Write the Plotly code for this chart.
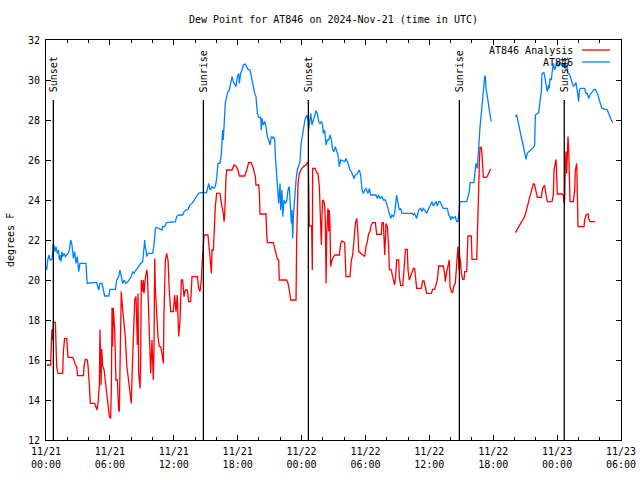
import pandas as pd
import plotly.graph_objects as go

BASE = pd.Timestamp("2024-11-21 00:00")

# hours after 2024-11-21 00:00 UTC, dew point in deg F (None = data gap)
red_hours = [0.06,0.44,0.47,0.56,0.63,0.69,0.88,0.94,1.00,1.13,1.57,1.63,1.75,1.94,2.00,2.07,2.50,2.63,2.75,2.88,2.97,3.51,3.57,3.69,3.88,3.94,4.07,4.16,4.57,4.70,4.79,4.88,4.95,5.01,5.07,5.17,5.23,5.32,5.45,5.57,5.70,5.82,5.95,6.07,6.14,6.20,6.26,6.32,6.45,6.57,6.70,6.82,6.89,6.95,7.07,7.20,7.33,7.45,7.58,7.76,7.89,8.01,8.08,8.20,8.33,8.45,8.51,8.58,8.64,8.70,8.83,8.89,8.95,9.08,9.14,9.20,9.33,9.45,9.52,9.64,9.77,9.83,9.95,10.02,10.08,10.14,10.21,10.27,10.39,10.52,10.64,10.77,10.89,11.02,11.08,11.21,11.33,11.46,11.58,11.71,11.96,12.08,12.21,12.33,12.46,12.58,12.71,12.83,12.96,13.09,13.27,13.40,13.59,13.71,14.21,14.34,14.46,14.59,14.68,14.78,14.84,15.21,15.34,15.40,15.53,15.59,15.72,15.78,15.90,16.03,16.34,16.47,16.59,16.65,16.72,16.78,16.91,16.97,17.47,17.66,17.84,18.03,18.16,18.66,18.85,19.03,19.28,19.47,19.66,19.72,19.97,20.04,20.10,20.66,20.72,20.79,21.35,21.54,21.73,21.85,21.91,22.60,22.73,22.85,22.98,23.48,23.54,23.67,23.79,23.98,24.17,24.42,24.54,24.64,24.70,24.73,24.95,25.01,25.04,25.29,25.42,25.54,25.67,25.73,25.86,25.92,25.98,26.11,26.17,26.23,26.30,26.36,26.48,26.55,26.61,26.67,26.73,26.86,26.98,27.11,27.55,27.67,27.80,28.05,28.17,28.55,28.68,28.80,28.93,29.05,29.18,29.30,29.36,29.61,29.74,29.93,30.05,30.18,30.30,30.43,30.55,30.68,30.93,30.99,31.05,31.49,31.55,31.68,31.74,31.81,31.87,31.93,32.06,32.12,32.18,32.24,32.43,32.49,32.62,32.74,32.81,32.93,33.12,33.18,33.31,33.50,33.62,33.75,33.93,34.00,34.12,34.31,34.50,34.62,34.69,34.81,35.25,35.37,35.50,35.62,35.75,36.19,36.31,36.50,36.63,36.75,36.88,37.31,37.44,37.50,37.63,37.75,37.88,37.94,38.07,38.19,38.32,38.44,38.57,38.69,38.79,38.82,38.94,39.01,39.13,39.26,39.32,39.51,39.57,39.63,39.94,40.01,40.45,40.51,40.63,40.70,40.76,40.88,40.95,41.01,41.07,41.39,41.51,41.64,41.76,43.00,44.08,44.20,44.39,44.58,44.77,44.95,45.08,45.20,45.33,45.45,45.58,45.77,45.89,46.02,46.14,46.52,46.58,46.71,46.83,46.96,47.08,47.52,47.58,47.65,47.71,47.83,47.90,47.96,48.02,48.46,48.58,48.65,48.71,48.77,48.84,48.90,48.96,49.02,49.09,49.15,49.21,49.52,49.65,49.71,49.77,49.84,49.90,49.96,50.53,50.59,50.71,50.90,50.96,51.09,51.59]
red_dewpt = [15.75,15.75,16.37,17.53,17.0,17.88,17.88,16.92,15.67,15.33,15.33,16.42,17.08,17.08,16.58,16.13,16.13,16.0,15.75,15.67,15.22,15.22,15.67,16.03,16.0,15.75,14.75,13.83,13.83,13.67,13.5,13.83,14.33,14.75,17.53,14.75,16.55,15.7,15.53,14.92,14.42,14.0,13.17,13.08,14.67,18.63,16.67,18.6,17.5,15.0,15.0,13.5,13.42,15.67,19.42,18.5,17.83,17.17,15.75,15.0,14.25,13.83,15.17,17.67,19.0,19.17,17.17,16.75,19.33,15.33,14.58,16.08,20.0,19.42,20.0,19.33,20.08,20.5,20.33,18.58,16.83,15.33,17.0,15.67,15.0,16.58,21.08,19.5,18.17,17.17,16.67,16.67,16.33,15.83,18.33,21.0,21.33,21.0,19.42,18.42,18.42,19.25,18.42,19.25,17.17,17.92,20.0,20.0,19.17,19.5,19.5,18.92,18.92,20.17,20.17,19.58,19.42,20.0,21.0,21.67,22.25,22.25,21.67,21.17,20.33,21.5,21.5,22.33,23.67,24.33,24.33,23.83,23.5,23.33,22.92,23.25,25.17,25.5,25.5,25.75,25.7,25.5,25.2,25.2,25.5,25.87,25.87,25.58,25.17,24.75,24.75,24.33,23.3,23.3,22.37,21.87,21.87,21.5,21.03,21.0,20.0,20.0,19.83,19.5,19.0,19.0,22.0,24.83,25.33,25.53,25.67,25.75,25.87,25.83,23.42,22.7,22.7,20.5,25.58,25.58,25.37,25.33,24.67,23.33,21.75,23.17,24.0,23.92,23.67,23.0,19.83,22.33,23.58,22.42,23.5,22.67,20.67,21.0,21.17,21.25,21.25,21.83,21.95,21.87,20.17,20.17,21.0,21.25,22.0,22.83,23.08,22.33,21.42,21.33,21.25,21.17,21.67,21.92,22.33,22.42,22.75,22.87,22.87,22.5,22.28,22.28,22.87,22.87,22.13,21.25,22.0,22.83,22.67,22.25,21.67,20.53,20.5,20.33,20.0,19.75,20.0,21.0,21.0,20.17,19.72,19.72,20.5,21.53,21.53,20.5,20.0,20.33,20.58,20.58,20.0,19.58,19.58,19.95,19.95,19.58,19.33,19.33,19.53,19.53,19.75,20.0,20.7,20.7,20.33,19.92,20.42,20.67,21.0,19.67,19.42,19.37,19.75,19.83,21.0,21.67,20.5,21.33,20.83,20.33,20.03,20.03,20.42,20.42,21.33,22.2,22.2,21.03,21.03,22.5,24.33,25.83,26.63,26.63,26.25,25.67,25.13,25.13,25.3,25.42,25.55,None,22.37,22.5,22.67,22.83,23.0,23.17,23.42,23.67,23.92,24.25,24.58,24.83,24.75,24.42,24.13,24.13,24.42,24.67,24.73,24.25,23.92,23.92,24.25,24.28,25.5,26.0,26.03,25.17,24.3,24.3,24.25,23.87,24.0,25.67,26.42,25.33,27.17,27.17,26.5,25.33,23.92,23.92,24.5,25.5,25.83,25.83,24.33,22.67,22.67,23.0,23.25,23.3,23.08,22.92,22.92]

blue_hours = [0.0,0.06,0.16,0.28,0.38,0.56,0.69,0.75,0.85,0.94,1.06,1.19,1.25,1.31,1.41,1.50,1.57,1.69,1.82,1.94,2.07,2.19,2.32,2.44,2.57,2.69,2.82,2.94,3.07,3.19,3.76,3.82,3.88,4.32,4.76,4.95,5.07,5.26,5.38,5.51,5.89,6.01,6.51,6.64,6.82,6.95,7.07,7.20,7.33,7.51,7.70,7.83,8.01,8.14,8.26,8.45,8.77,8.89,9.08,9.20,9.27,9.33,9.39,9.45,9.58,10.02,10.14,10.27,10.39,10.89,10.96,11.14,11.33,12.15,12.27,12.46,12.84,12.96,13.15,13.34,13.52,13.71,13.90,14.02,14.15,14.34,14.59,15.09,15.28,15.40,15.59,15.78,15.90,16.03,16.15,16.34,16.47,16.59,16.65,16.72,16.84,16.97,17.09,17.22,17.34,17.47,17.59,17.72,17.84,17.97,18.09,18.16,18.28,18.41,18.53,18.72,18.85,18.97,19.16,19.28,19.41,19.60,19.72,19.85,19.97,20.16,20.22,20.29,20.41,20.54,20.66,20.79,20.91,21.04,21.16,21.29,21.35,21.48,21.54,21.60,21.73,21.85,21.98,22.04,22.16,22.23,22.35,22.48,22.60,22.73,22.85,22.98,23.04,23.10,23.17,23.23,23.35,23.48,23.60,23.73,23.85,23.95,24.01,24.17,24.32,24.48,24.61,24.67,24.73,24.86,24.98,25.11,25.23,25.36,25.48,25.61,25.73,25.86,25.98,26.05,26.17,26.30,26.42,26.55,26.67,26.80,26.92,27.05,27.17,27.30,27.42,27.55,27.67,28.05,28.17,28.30,28.42,28.55,28.68,28.80,28.93,29.05,29.24,29.43,29.55,29.68,29.80,29.93,30.05,30.24,30.37,30.49,30.99,31.12,31.24,31.37,31.55,31.68,31.87,31.99,32.12,32.24,32.37,32.49,32.62,32.74,32.81,32.93,33.06,33.18,33.31,33.43,34.37,34.50,34.62,34.81,35.00,35.19,35.31,35.44,35.56,35.75,35.88,36.06,36.25,36.38,36.50,36.63,36.75,36.88,37.00,37.19,37.31,37.69,37.82,37.94,38.00,38.13,38.25,38.44,38.57,38.69,38.82,38.88,39.51,39.63,39.76,39.82,40.20,40.26,40.38,40.51,40.57,40.63,40.70,40.76,40.88,40.95,41.01,41.07,41.13,41.20,41.26,41.32,41.45,41.57,41.70,41.82,43.00,44.08,44.20,44.33,44.45,44.58,44.70,44.83,44.95,45.08,45.20,45.39,45.58,45.77,45.89,45.96,46.08,46.27,46.39,46.52,46.58,46.77,46.89,47.02,47.08,47.21,47.27,47.33,47.46,47.52,47.65,47.77,47.90,48.02,48.15,48.27,48.40,48.52,48.65,48.77,48.90,49.02,49.15,49.27,49.40,49.52,49.65,49.77,49.90,50.02,50.09,50.21,50.59,50.71,50.84,50.96,51.09,51.21,51.34,51.46,51.59,51.72,51.84,51.96,52.09,52.22,52.59,52.72,52.84,52.97,53.09,53.22]
blue_dewpt = [20.7,20.5,21.0,21.25,21.0,21.03,21.83,21.58,21.42,21.67,21.33,21.5,21.0,21.25,20.92,21.42,21.17,21.33,21.17,21.25,21.33,21.5,22.0,21.75,21.08,21.42,20.83,21.17,20.42,20.83,20.83,20.17,19.83,19.87,19.87,19.5,19.83,19.83,19.5,19.2,19.2,19.53,19.53,20.0,20.17,20.5,20.17,19.83,20.0,19.83,19.92,20.03,20.17,20.42,20.33,20.5,20.75,20.83,20.92,21.5,22.0,21.58,21.5,21.17,21.33,21.33,21.75,22.58,22.63,22.5,22.67,22.67,22.87,22.92,23.17,23.25,23.25,23.42,23.5,23.53,23.75,23.83,24.0,24.08,24.17,24.33,24.37,24.37,24.83,24.5,24.67,24.58,24.67,25.08,25.83,25.83,26.33,27.5,27.0,27.83,28.83,29.17,29.42,29.5,29.92,30.17,29.92,29.75,29.67,30.17,30.33,29.83,30.33,30.5,30.75,30.8,30.67,30.53,30.5,30.17,29.83,29.33,29.17,28.33,28.13,28.13,27.5,28.08,27.75,27.92,27.67,27.17,27.0,26.75,27.17,27.08,27.17,27.0,26.17,25.67,24.67,23.83,24.83,23.5,24.5,23.17,24.0,23.83,23.92,24.5,24.67,23.17,22.83,23.5,22.08,23.17,24.17,25.0,25.5,25.67,25.9,26.8,27.0,27.58,28.0,28.25,28.0,27.5,27.83,28.33,27.75,28.0,28.33,28.47,28.33,27.92,27.83,27.92,27.75,27.33,27.5,26.75,27.0,27.0,27.25,27.03,26.5,26.42,26.67,26.42,26.25,25.67,26.0,25.92,26.08,25.92,25.67,25.5,25.42,25.25,25.08,25.25,25.33,25.5,25.25,24.5,24.33,24.5,24.58,24.33,24.58,24.25,24.25,24.08,24.25,24.08,24.17,24.0,24.0,23.83,23.58,23.25,23.08,23.25,23.17,23.33,23.67,24.25,23.83,23.5,23.58,23.33,23.33,23.25,23.33,23.08,23.5,23.58,23.42,23.58,23.5,23.33,23.5,23.7,23.92,23.7,23.83,23.92,23.7,23.92,23.92,23.7,23.58,23.58,23.25,23.17,23.0,23.17,23.08,23.17,22.92,22.92,23.67,23.92,23.92,24.25,24.42,24.87,24.87,25.25,25.83,25.58,26.17,26.58,27.17,27.67,28.33,28.83,29.17,29.67,29.92,30.17,30.2,29.58,29.17,28.67,28.25,27.92,None,28.17,28.25,27.92,27.67,27.33,27.0,26.7,26.33,26.03,26.33,26.42,26.53,26.63,26.75,28.25,28.3,28.37,28.92,29.42,30.33,30.37,30.0,29.67,29.42,29.75,29.58,30.08,30.0,30.33,30.83,30.5,30.75,30.92,30.67,30.92,30.75,30.67,30.83,30.58,30.75,30.33,30.3,30.08,29.92,29.7,29.75,29.87,29.42,28.92,29.5,29.58,29.58,29.33,29.33,29.08,29.25,29.33,29.42,29.53,29.53,29.42,29.25,29.0,28.83,28.58,28.53,28.5,28.33,28.13,28.0,27.87]

sun_labels = ["Sunset", "Sunrise", "Sunset", "Sunrise", "Sunset"]
sun_hours = [0.69, 14.78, 24.64, 38.82, 48.67]

series_names = ["AT846 Analysis", "AT846"]
series_colors = ["#ff0000", "#0080ff"]

FONT = "DejaVu Sans Mono"
FS = 10
W, H = 640, 480


def to_time(hours):
    return [BASE + pd.Timedelta(hours=h) for h in hours]


fig = go.Figure()
fig.add_trace(go.Scatter(x=to_time(red_hours), y=red_dewpt, mode="lines",
                         name=series_names[0],
                         line=dict(color=series_colors[0], width=1.3)))
fig.add_trace(go.Scatter(x=to_time(blue_hours), y=blue_dewpt, mode="lines",
                         name=series_names[1],
                         line=dict(color=series_colors[1], width=1.3)))

for lab, h in zip(sun_labels, sun_hours):
    t = BASE + pd.Timedelta(hours=h)
    fig.add_shape(type="line", xref="x", yref="y", x0=t, x1=t, y0=12, y1=29,
                  line=dict(color="black", width=1.3))
    fig.add_annotation(x=t, y=29, xref="x", yref="y", text=lab, textangle=-90,
                       showarrow=False, xanchor="center", yanchor="bottom",
                       yshift=6, font=dict(family=FONT, size=FS, color="black"))

# gnuplot-style key: text left, line sample right
key_y = [0.975, 0.945]
for name, col, ky in zip(series_names, series_colors, key_y):
    fig.add_annotation(x=0.92, y=ky, xref="paper", yref="paper", text=name,
                       showarrow=False, xanchor="right", yanchor="middle",
                       font=dict(family=FONT, size=FS, color="black"))
    fig.add_shape(type="line", xref="paper", yref="paper", x0=0.932, x1=0.981,
                  y0=ky, y1=ky, line=dict(color=col, width=1.3))

fig.add_annotation(x=-0.0626, y=0.5, xref="paper", yref="paper",
                   text="degrees F", textangle=-90, showarrow=False,
                   xanchor="center", yanchor="middle",
                   font=dict(family=FONT, size=FS, color="black"))

fig.update_layout(
    width=W, height=H,
    margin=dict(l=46, r=19, t=40, b=40, autoexpand=False),
    paper_bgcolor="white", plot_bgcolor="white",
    showlegend=False,
    hovermode=False,
    font=dict(family=FONT, size=FS, color="black"),
    title=dict(text="Dew Point for AT846 on 2024-Nov-21 (time in UTC)",
               x=0.5, xref="paper", xanchor="center",
               y=1 - 19 / H, yref="container", yanchor="middle",
               font=dict(family=FONT, size=FS, color="black")),
)
fig.update_xaxes(
    type="date",
    range=[BASE, BASE + pd.Timedelta(hours=54)],
    tick0=BASE, dtick=6 * 3600 * 1000, tickformat="%m/%d<br>%H:%M",
    ticks="inside", ticklen=5, tickcolor="black", tickwidth=1,
    minor=dict(dtick=2 * 3600 * 1000, ticks="inside", ticklen=3,
               tickcolor="black", showgrid=False),
    showline=True, linecolor="black", linewidth=1, mirror="ticks",
    showgrid=False, zeroline=False, automargin=False,
    ticklabeloverflow="allow", ticklabelstandoff=2,
    tickfont=dict(family=FONT, size=FS),
)
fig.update_yaxes(
    range=[12, 32], dtick=2, tick0=12,
    ticks="inside", ticklen=5, tickcolor="black", tickwidth=1,
    showline=True, linecolor="black", linewidth=1, mirror="ticks",
    showgrid=False, zeroline=False, automargin=False,
    ticklabelstandoff=3,
    tickfont=dict(family=FONT, size=FS),
)

fig.write_html(
    "out.html",
    config={"displayModeBar": False, "staticPlot": True},
    post_script="document.body.style.margin='0';document.body.style.overflow='hidden';",
)
